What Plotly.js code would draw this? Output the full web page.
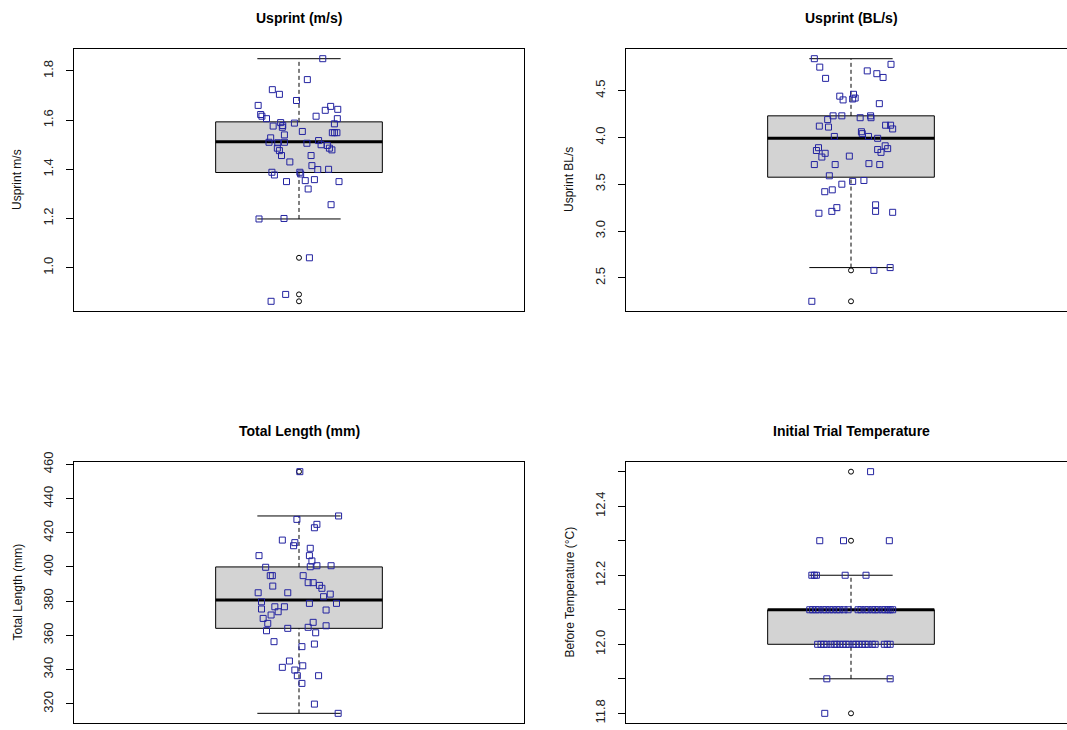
<!DOCTYPE html>
<html>
<head>
<meta charset="utf-8">
<script src="https://cdn.plot.ly/plotly-3.0.1.min.js"></script>
<style>
  html, body { margin: 0; padding: 0; background: #fff; overflow: hidden; }
  #chart { width: 1104px; height: 826px; }
</style>
</head>
<body>
<div id="chart"></div>
<script>
// ---------- DATA ----------
const panelTitles = ["Usprint (m/s)", "Usprint (BL/s)", "Total Length (mm)", "Initial Trial Temperature"];
const yLabels = ["Usprint m/s", "Usprint BL/s", "Total Length (mm)", "Before Temperature (°C)"];

// Panel 1: Usprint (m/s)
const p1Values = [1.85,1.765,1.724,1.705,1.68,1.66,1.623,1.616,1.606,1.616,1.64,1.656,1.644,1.606,1.585,1.59,1.578,1.576,1.571,1.588,1.54,1.554,1.549,1.549,1.549,1.528,1.51,1.508,1.51,1.506,1.517,1.50,1.497,1.486,1.479,1.486,1.476,1.456,1.456,1.43,1.415,1.399,1.40,1.388,1.377,1.388,1.381,1.35,1.354,1.358,1.35,1.32,1.256,1.198,1.20,1.04,0.891,0.863];
const p1Jitter = [0.057,0.020,-0.064,-0.047,-0.006,-0.098,-0.092,-0.089,-0.078,0.041,0.063,0.076,0.093,0.092,0.085,-0.044,-0.039,-0.062,-0.040,-0.011,-0.035,0.008,0.080,0.085,0.091,-0.068,-0.072,-0.051,-0.035,0.019,0.047,0.053,0.068,0.073,0.079,-0.052,-0.047,-0.042,0.029,-0.022,0.031,0.045,0.071,-0.065,-0.059,0.002,0.004,-0.030,0.015,0.037,0.096,0.022,0.077,-0.096,-0.036,0.025,-0.032,-0.067];
const p1Stats = [1.198, 1.387, 1.512, 1.593, 1.85]; // lower whisker, Q1, median, Q3, upper whisker
const p1Outliers = [1.04, 0.891, 0.863];

// Panel 2: Usprint (BL/s)
const p2Values = [4.84,4.75,4.63,4.78,4.71,4.68,4.64,4.44,4.40,4.46,4.42,4.41,4.36,4.19,4.23,4.23,4.21,4.23,4.21,4.12,4.11,4.13,4.13,4.09,4.01,4.06,4.04,4.01,3.99,3.89,3.86,3.83,3.79,3.80,3.87,3.91,3.88,3.84,3.71,3.71,3.72,3.71,3.59,3.50,3.53,3.54,3.42,3.44,3.19,3.21,3.25,3.28,3.21,3.20,2.25,2.58,2.61];
const p2Jitter = [-0.088,-0.075,-0.061,0.096,0.039,0.062,0.077,-0.027,-0.019,0.006,0.010,0.004,0.068,-0.056,-0.043,-0.022,0.022,0.047,0.048,-0.076,-0.054,0.083,0.095,0.100,-0.040,0.025,0.027,0.042,0.064,-0.078,-0.083,-0.062,-0.070,-0.004,0.064,0.082,0.088,0.072,-0.088,-0.038,0.043,0.069,-0.052,-0.022,0.004,0.031,-0.063,-0.045,-0.077,-0.046,-0.034,0.059,0.059,0.100,-0.094,0.055,0.094];
const p2Stats = [2.61, 3.575, 3.99, 4.23, 4.84];
const p2Outliers = [2.58, 2.25];

// Panel 3: Total Length (mm)
const p3Values = [455.7,429.8,427.8,424.9,422.9,415.7,414.2,412.4,410.9,406.6,406.6,403.5,400.7,400.7,400.1,399.8,394.9,394.9,394.9,390.8,390.8,389.2,388.8,387.5,384.9,384.9,384.1,382.6,379.6,375.4,376.7,376.7,373.8,371.9,369.9,367.0,378.7,378.7,374.8,362.7,364.1,364.7,367.6,361.5,365.6,356.3,353.4,354.9,345.0,341.3,339.7,342.2,336.4,336.4,331.9,319.8,314.4];
const p3Jitter = [0.002,0.095,-0.005,0.043,0.037,-0.040,-0.010,-0.013,0.027,-0.096,0.025,0.031,0.043,0.077,0.027,-0.080,-0.069,-0.064,0.010,0.022,0.034,0.049,-0.063,0.055,-0.098,-0.027,0.075,0.059,-0.090,-0.090,-0.058,-0.035,-0.050,-0.067,-0.086,-0.075,0.025,0.090,0.065,-0.078,-0.027,0.022,0.034,0.040,0.065,-0.060,0.007,0.037,-0.023,-0.040,-0.010,0.009,-0.004,0.047,0.007,0.037,0.094];
const p3Stats = [314.4, 364.1, 380.6, 400.0, 429.8];
const p3Outliers = [455.7];

// Panel 4: Initial Trial Temperature
const p4Values = [12.5,12.3,12.3,12.3,12.2,12.2,12.2,12.2,12.2,
  12.1,12.1,12.1,12.1,12.1,12.1,12.1,12.1,12.1,12.1,12.1,12.1,12.1,12.1,12.1,12.1,12.1,12.1,12.1,12.1,12.1,12.1,12.1,12.1,
  12.0,12.0,12.0,12.0,12.0,12.0,12.0,12.0,12.0,12.0,12.0,12.0,12.0,12.0,12.0,12.0,12.0,12.0,12.0,12.0,12.0,12.0,
  11.9,11.9,11.8];
const p4Jitter = [0.047,-0.075,-0.018,0.092,-0.094,-0.088,-0.083,-0.014,0.036,
  -0.099,-0.092,-0.084,-0.077,-0.067,-0.060,-0.051,-0.043,-0.034,-0.027,-0.017,-0.007,0.017,0.024,0.034,0.041,0.051,0.058,0.065,0.075,0.082,0.089,0.094,0.100,
  -0.080,-0.072,-0.065,-0.058,-0.048,-0.039,-0.034,-0.027,-0.019,-0.012,-0.005,0.005,0.012,0.019,0.027,0.034,0.041,0.051,0.058,0.080,0.087,0.094,
  -0.058,0.094,-0.063];
const p4Stats = [11.9, 12.0, 12.1, 12.1, 12.2];
const p4Outliers = [12.5, 12.3, 11.8];

// Axis tick labels
const p1Ticks = [1.0, 1.2, 1.4, 1.6, 1.8];
const p1TickText = ["1.0", "1.2", "1.4", "1.6", "1.8"];
const p2Ticks = [2.5, 3.0, 3.5, 4.0, 4.5];
const p2TickText = ["2.5", "3.0", "3.5", "4.0", "4.5"];
const p3Ticks = [320, 340, 360, 380, 400, 420, 440, 460];
const p3TickText = ["320", "340", "360", "380", "400", "420", "440", "460"];
const p4Ticks = [11.8, 11.9, 12.0, 12.1, 12.2, 12.3, 12.4, 12.5];
const p4TickText = ["11.8", "", "12.0", "", "12.2", "", "12.4", ""];

// ---------- LAYOUT ----------
const W = 1104, H = 826;
const colPx = [[74, 524], [626, 1076]];
const rowPx = [[49, 311], [462, 723]];
const panels = [
  {vals: p1Values, jit: p1Jitter, st: p1Stats, out: p1Outliers, tv: p1Ticks, tt: p1TickText, col: 0, row: 0},
  {vals: p2Values, jit: p2Jitter, st: p2Stats, out: p2Outliers, tv: p2Ticks, tt: p2TickText, col: 1, row: 0},
  {vals: p3Values, jit: p3Jitter, st: p3Stats, out: p3Outliers, tv: p3Ticks, tt: p3TickText, col: 0, row: 1},
  {vals: p4Values, jit: p4Jitter, st: p4Stats, out: p4Outliers, tv: p4Ticks, tt: p4TickText, col: 1, row: 1}
];

const FONT = "Liberation Sans, Arial, Helvetica, sans-serif";
const traces = [];
const shapes = [];
const annotations = [];
const layout = {
  width: W, height: H,
  margin: {l: 0, r: 0, t: 0, b: 0},
  paper_bgcolor: "#ffffff", plot_bgcolor: "#ffffff",
  showlegend: false,
  font: {family: FONT, size: 12, color: "#000"}
};

const BOX_HALF = 0.2, CAP_HALF = 0.1;

panels.forEach((p, i) => {
  const n = i + 1;
  const xa = "x" + (n === 1 ? "" : n), ya = "y" + (n === 1 ? "" : n);
  const xk = "xaxis" + (n === 1 ? "" : n), yk = "yaxis" + (n === 1 ? "" : n);
  const all = p.vals.concat(p.out);
  const mn = Math.min(...all), mx = Math.max(...all), pad = (mx - mn) * 0.04;
  const [x0, x1] = colPx[p.col], [y0, y1] = rowPx[p.row];

  layout[xk] = {
    domain: [x0 / W, x1 / W], range: [0.46, 1.54],
    showgrid: false, zeroline: false, showticklabels: false, ticks: "",
    showline: true, mirror: true, linecolor: "#000", linewidth: 1, anchor: ya, fixedrange: true
  };
  layout[yk] = {
    domain: [(H - y1) / H, (H - y0) / H], range: [mn - pad, mx + pad],
    showgrid: false, zeroline: false, showline: true, mirror: true, linecolor: "#000", linewidth: 1,
    ticks: "outside", ticklen: 7, tickcolor: "#000", tickwidth: 1,
    tickmode: "array", tickvals: p.tv, ticktext: p.tt, tickangle: -90, ticklabelstandoff: 8,
    tickfont: {family: FONT, size: 13, color: "#222"}, anchor: xa, fixedrange: true
  };

  // Box (lightgray) with black border
  shapes.push({type: "rect", xref: xa, yref: ya, x0: 1 - BOX_HALF, x1: 1 + BOX_HALF, y0: p.st[1], y1: p.st[3],
    fillcolor: "#d3d3d3", line: {color: "#000", width: 1}, layer: "below"});
  // Whiskers dashed
  shapes.push({type: "line", xref: xa, yref: ya, x0: 1, x1: 1, y0: p.st[0], y1: p.st[1], line: {color: "#000", width: 1, dash: "4px,3px"}, layer: "below"});
  shapes.push({type: "line", xref: xa, yref: ya, x0: 1, x1: 1, y0: p.st[3], y1: p.st[4], line: {color: "#000", width: 1, dash: "4px,3px"}, layer: "below"});
  // Staples
  shapes.push({type: "line", xref: xa, yref: ya, x0: 1 - CAP_HALF, x1: 1 + CAP_HALF, y0: p.st[0], y1: p.st[0], line: {color: "#000", width: 1}, layer: "below"});
  shapes.push({type: "line", xref: xa, yref: ya, x0: 1 - CAP_HALF, x1: 1 + CAP_HALF, y0: p.st[4], y1: p.st[4], line: {color: "#000", width: 1}, layer: "below"});
  // Median
  shapes.push({type: "line", xref: xa, yref: ya, x0: 1 - BOX_HALF, x1: 1 + BOX_HALF, y0: p.st[2], y1: p.st[2], line: {color: "#000", width: 3}, layer: "below"});

  // Outliers (black open circles)
  traces.push({type: "scatter", mode: "markers", xaxis: xa, yaxis: ya,
    x: p.out.map(() => 1), y: p.out,
    marker: {symbol: "circle-open", size: 5, color: "#000", line: {width: 1, color: "#000"}}, hoverinfo: "y"});
  // Jittered points (blue open squares)
  traces.push({type: "scatter", mode: "markers", xaxis: xa, yaxis: ya,
    x: p.jit.map(j => 1 + j), y: p.vals,
    marker: {symbol: "square-open", size: 6, color: "#2323a0", line: {width: 1, color: "#2323a0"}}, hoverinfo: "y"});

  // Main title
  annotations.push({xref: "paper", yref: "paper", x: (x0 + x1) / 2 / W, y: (H - (y0 - 31)) / H,
    xanchor: "center", yanchor: "middle", showarrow: false,
    text: "<b>" + panelTitles[i] + "</b>", font: {family: FONT, size: 14, color: "#000"}});
  // Y label
  annotations.push({xref: "paper", yref: "paper", x: (x0 - 57) / W, y: (H - (y0 + y1) / 2) / H,
    xanchor: "center", yanchor: "middle", showarrow: false, textangle: -90,
    text: yLabels[i], font: {family: FONT, size: 12, color: "#111"}});
});

layout.shapes = shapes;
layout.annotations = annotations;

Plotly.newPlot("chart", traces, layout, {displayModeBar: false, staticPlot: true});
</script>
</body>
</html>
